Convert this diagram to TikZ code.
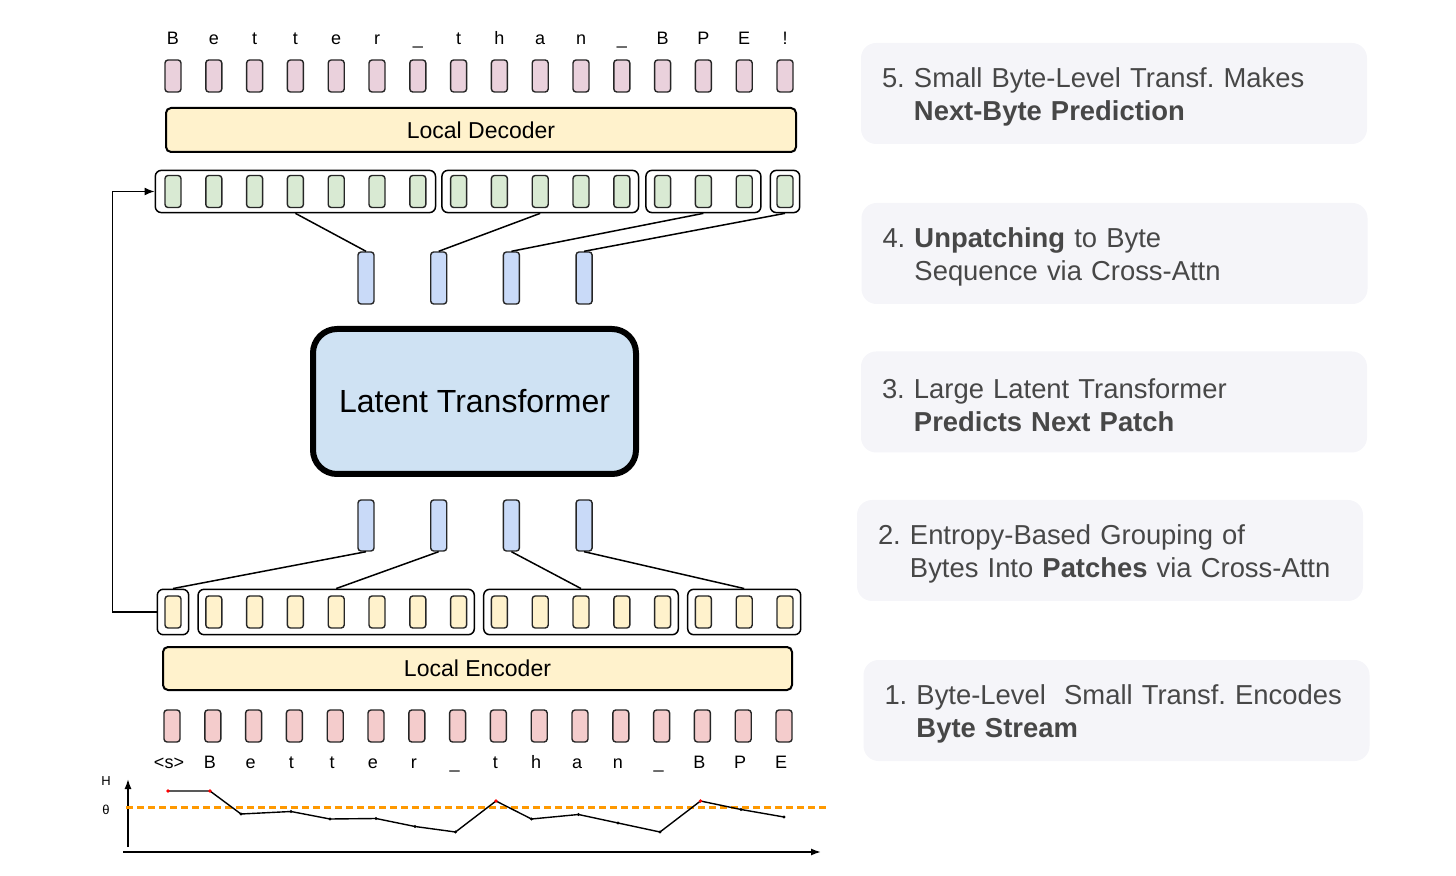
\documentclass[tikz,border=0pt]{standalone}
\usepackage{fontspec}
\setmainfont{Liberation Sans}
\usetikzlibrary{fit,arrows.meta}
\definecolor{cPinkT}{HTML}{EAD1DC}
\definecolor{cPinkB}{HTML}{F4CCCC}
\definecolor{cGreen}{HTML}{D9EAD3}
\definecolor{cYel}{HTML}{FFF2CC}
\definecolor{cBlue}{HTML}{C9DAF8}
\definecolor{cLat}{HTML}{CFE2F3}
\definecolor{cPan}{HTML}{F5F5F9}
\definecolor{cTxt}{HTML}{474747}
\definecolor{cOrange}{HTML}{FF9900}
\frenchspacing
\hyphenpenalty=10000
\newcommand{\padtop}{\rule{0pt}{13pt}}
\begin{document}
\begin{tikzpicture}[x=0.5pt,y=-0.5pt,
  tok/.style={draw=black!85, line width=0.7pt, rounded corners=1.5pt, minimum width=8pt, minimum height=16pt, inner sep=0pt},
  grp/.style={draw, line width=0.75pt, rounded corners=3pt, inner sep=0pt},
  bar/.style={draw, line width=1pt, rounded corners=2.5pt, fill=cYel, minimum height=22pt, inner sep=0pt, font=\fontsize{11.5}{13}\selectfont},
  lbl/.style={font=\fontsize{9}{10}\selectfont, inner sep=0pt, text height=6.6pt, text depth=0.4pt},
  panel/.style={fill=cPan, rounded corners=7.5pt, minimum width=253pt, minimum height=50.5pt, text width=232pt, inner xsep=10.5pt, align=left, text=cTxt, font=\fontsize{13.7}{16.5}\selectfont},
  conn/.style={line width=0.75pt},
  dot/.style={circle, fill=black, inner sep=0pt, minimum size=1.6pt},
  rdot/.style={circle, fill=red, inner sep=0pt, minimum size=1.8pt}
]
\useasboundingbox (0,0) rectangle (1456,876);

% top letters and output tokens
\foreach \c [count=\i from 0] in {B,e,t,t,e,r,\_,t,h,a,n,\_,B,P,E,!}{
  \node[lbl] (tl\i) at ({173+40.8*\i},38) {\c};
  \node[tok, fill=cPinkT] (d\i) at ({173+40.8*\i},76) {};
}
\node[bar, minimum width=315pt] (dec) at (481,130) {Local Decoder};

% decoder byte tokens (green)
\foreach \i in {0,...,15}{
  \node[tok, fill=cGreen] (g\i) at ({173+40.8*\i},191.5) {};
}
\node[grp, inner xsep=4.5pt, inner ysep=2.2pt, fit=(g0)(g6)] (dg1) {};
\node[grp, inner xsep=4pt, inner ysep=2.2pt, fit=(g7)(g11)] (dg2) {};
\node[grp, inner xsep=4pt, inner ysep=2.2pt, fit=(g12)(g14)] (dg3) {};
\node[grp, inner xsep=3pt, inner ysep=2.2pt, fit=(g15)] (dg4) {};

% patch tokens (blue)
\foreach \k in {1,...,4}{
  \node[tok, fill=cBlue, minimum height=26pt] (bu\k) at ({366+72.7*(\k-1)},278) {};
  \node[tok, fill=cBlue, minimum height=25.5pt] (bl\k) at ({366+72.7*(\k-1)},525.5) {};
}

\node[draw, line width=3pt, rounded corners=12pt, fill=cLat, minimum width=161.5pt, minimum height=72.5pt, font=\fontsize{16}{19}\selectfont] (lt) at (474.5,401.5) {Latent Transformer};

\draw[conn] (dg1.south) -- (bu1.north);
\draw[conn] (dg2.south) -- (bu2.north);
\draw[conn] (dg3.south) -- (bu3.north);
\draw[conn] (dg4.south) -- (bu4.north);

% encoder byte tokens (yellow)
\foreach \i in {0,...,15}{
  \node[tok, fill=cYel] (y\i) at ({173+40.8*\i},612) {};
}
\node[grp, inner xsep=3.5pt, inner ysep=3pt, fit=(y0)] (eg1) {};
\node[grp, inner xsep=3.5pt, inner ysep=3pt, fit=(y1)(y7)] (eg2) {};
\node[grp, inner xsep=3.5pt, inner ysep=3pt, fit=(y8)(y12)] (eg3) {};
\node[grp, inner xsep=3.5pt, inner ysep=3pt, fit=(y13)(y15)] (eg4) {};

\draw[conn] (bl1.south) -- (eg1.north);
\draw[conn] (bl2.south) -- (eg2.north);
\draw[conn] (bl3.south) -- (eg3.north);
\draw[conn] (bl4.south) -- (eg4.north);

% feedback arrow
\draw[conn, -{Latex[length=5pt,width=4pt]}] (eg1.west) -- ++(-44,0) |- (dg1.west);

\node[bar, minimum width=314.5pt, minimum height=21.5pt] (enc) at (477.5,668.5) {Local Encoder};

% input tokens and labels
\foreach \c [count=\i from 0] in {<s>,B,e,t,t,e,r,\_,t,h,a,n,\_,B,P,E}{
  \node[tok, fill=cPinkB] (p\i) at ({172+40.8*\i},726) {};
  \node[lbl] (il\i) at ({169+40.8*\i},762) {\c};
}

% entropy chart
\coordinate (yb) at (128,847);
\coordinate (yt) at (128,779);
\coordinate (xb) at (123,852);
\coordinate (xe) at (821,852);
\draw[conn, -{Latex[length=5pt,width=3.5pt]}] (yb) -- (yt);
\draw[conn, -{Latex[length=5pt,width=3.5pt]}] (xb) -- (xe);
\node[font=\fontsize{6.5}{7}\selectfont] (hl) at (106,781) {H};
\node[font=\fontsize{6.5}{7}\selectfont] (tl) at (106,810) {θ};
\coordinate (th0) at (126,807.5);
\coordinate (th1) at (828,807.5);
\draw[draw=cOrange, line width=1.05pt, dash pattern=on 3.5pt off 2pt] (th0) -- (th1);
\foreach \px/\py [count=\k] in {168/791,210/791,241/814,291/811.5,330/819,376/818.5,415/826.5,455.5/832,496/801,531.5/819,578.5/814.5,618/823,660/832,700.5/801,741/809.5,784/817}{
  \coordinate (c\k) at (\px,\py);
}
\draw[line width=0.7pt] (c1) \foreach \k in {2,...,16}{ -- (c\k) };
\foreach \k in {3,4,5,6,7,8,10,11,12,13,15,16}{ \node[dot] (cd\k) at (c\k) {}; }
\foreach \k in {1,2,9,14}{ \node[rdot] (cr\k) at (c\k) {}; }

% right panels
\node[panel] (s5) at (1114,93.5) {\padtop 5.~Small Byte-Level Transf. Makes\\\phantom{5.~}\textbf{Next-Byte Prediction}};
\node[panel] (s4) at (1114.5,253.5) {\padtop 4.~\textbf{Unpatching} to Byte\\\phantom{4.~}Sequence via Cross-Attn};
\node[panel] (s3) at (1114,402) {\padtop 3.~Large Latent Transformer\\\phantom{3.~}\textbf{Predicts Next Patch}};
\node[panel] (s2) at (1110,550.5) {\padtop 2.~Entropy-Based Grouping of\\\phantom{2.~}Bytes Into \textbf{Patches} via Cross-Attn};
\node[panel] (s1) at (1116.5,710.5) {\padtop 1.~Byte-Level\ \ Small Transf. Encodes\\\phantom{1.~}\textbf{Byte Stream}};
\end{tikzpicture}
\end{document}
